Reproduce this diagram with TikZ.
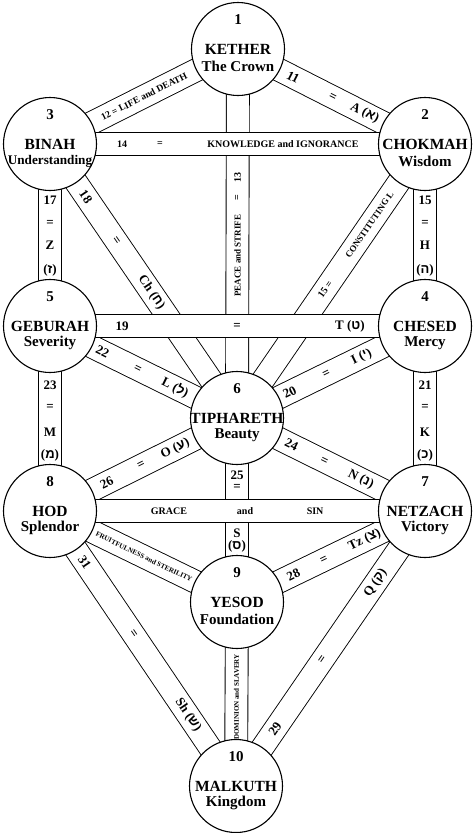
\documentclass[tikz,border=0pt]{standalone}
\usepackage{fontspec}
\setmainfont{Liberation Serif}
\newfontfamily\hebfont{Liberation Sans}
\usetikzlibrary{positioning, backgrounds, calc}
\newcommand{\heb}[1]{({\hebfont #1})}

\tikzset{
  sefira/.style={circle, draw, line width=1.1pt, fill=white, minimum size=93pt, inner sep=0pt},
  sefnum/.style={font=\bfseries\fontsize{15}{15}\selectfont, yshift=29pt},
  sefname/.style={font=\bfseries\fontsize{15.5}{15.5}\selectfont},
  seftitle/.style={font=\bfseries\fontsize{15}{15}\selectfont, yshift=-17pt},
  band/.style={line width=0.9pt, double=white, double distance=22pt},
  pathlab/.style={font=\bfseries\fontsize{13}{13}\selectfont, inner sep=0pt},
  pathtext/.style={font=\bfseries\fontsize{10}{10}\selectfont, inner sep=0pt},
  tinytext/.style={font=\bfseries\fontsize{7}{7}\selectfont, inner sep=0pt},
}

\begin{document}
\begin{tikzpicture}[x=1pt, y=-1pt]
\useasboundingbox (0,0) rectangle (476,833);

% the ten sefirot
\node[sefira, label={[sefnum]center:1}, label={[sefname]center:KETHER}, label={[seftitle]center:The Crown}] (kether) at (238,49) {};
\node[sefira, label={[sefnum]center:2}, label={[sefname]center:CHOKMAH}, label={[seftitle]center:Wisdom}] (chokmah) at (425,144) {};
\node[sefira, label={[sefnum]center:3}, label={[sefname]center:BINAH}, label={[seftitle, font=\bfseries\fontsize{13.2}{13.2}\selectfont]center:Understanding}] (binah) at (50,144) {};
\node[sefira, label={[sefnum]center:4}, label={[sefname]center:CHESED}, label={[seftitle]center:Mercy}] (chesed) at (425,326) {};
\node[sefira, label={[sefnum]center:5}, label={[sefname]center:GEBURAH}, label={[seftitle]center:Severity}] (geburah) at (50,326) {};
\node[sefira, label={[sefnum]center:6}, label={[sefname]center:TIPHARETH}, label={[seftitle]center:Beauty}] (tiphareth) at (237,418) {};
\node[sefira, label={[sefnum]center:7}, label={[sefname]center:NETZACH}, label={[seftitle]center:Victory}] (netzach) at (425,511) {};
\node[sefira, label={[sefnum]center:8}, label={[sefname]center:HOD}, label={[seftitle]center:Splendor}] (hod) at (50,511) {};
\node[sefira, label={[sefnum]center:9}, label={[sefname]center:YESOD}, label={[seftitle]center:Foundation}] (yesod) at (237,602) {};
\node[sefira, label={[sefnum]center:10}, label={[sefname]center:MALKUTH}, label={[seftitle]center:Kingdom}] (malkuth) at (236,786) {};

\begin{scope}[on background layer]
\fill[white] (0,0) rectangle (476,833);

% diagonal and vertical paths
\draw[band] (kether.center) -- (chokmah.center)
  node[pathlab, sloped, pos=0.295] {11}
  node[pathlab, sloped, pos=0.506] {=}
  node[pathlab, sloped, pos=0.677] {A \heb{א}};
\draw[band] (binah.center) -- (kether.center)
  node[pathtext, sloped, pos=0.5, font=\bfseries\fontsize{9.5}{9.5}\selectfont] {12 = LIFE and DEATH};
\draw[band] (kether.center) -- (tiphareth.center)
  node[pathtext, rotate=90, pos=0.348] {13}
  node[pathtext, rotate=90, pos=0.402] {=}
  node[pathtext, rotate=90, pos=0.56, font=\bfseries\fontsize{9}{9}\selectfont] {PEACE and STRIFE};
\draw[band] (tiphareth.center) -- (chokmah.center)
  node[pathtext, sloped, pos=0.469] {15 =}
  node[pathtext, sloped, pos=0.705, font=\bfseries\fontsize{9}{9}\selectfont] {CONSTITUTING L};
\draw[band] (chokmah.center) -- (chesed.center)
  node[pathlab, pos=0.308] {15}
  node[pathlab, pos=0.434] {=}
  node[pathlab, pos=0.555] {H}
  node[pathlab, pos=0.692] {\heb{ה}};
\draw[band] (binah.center) -- (geburah.center)
  node[pathlab, pos=0.308] {17}
  node[pathlab, pos=0.434] {=}
  node[pathlab, pos=0.555] {Z}
  node[pathlab, pos=0.692] {\heb{ז}};
\draw[band] (binah.center) -- (tiphareth.center)
  node[pathlab, sloped, pos=0.192] {18}
  node[pathlab, sloped, pos=0.353] {=}
  node[pathlab, sloped, pos=0.542] {Ch \heb{ח}};
\draw[band] (tiphareth.center) -- (chesed.center)
  node[pathlab, sloped, pos=0.28] {20}
  node[pathlab, sloped, pos=0.477] {=}
  node[pathlab, sloped, pos=0.663] {I \heb{י}};
\draw[band] (chesed.center) -- (netzach.center)
  node[pathlab, pos=0.319] {21}
  node[pathlab, pos=0.438] {=}
  node[pathlab, pos=0.573] {K}
  node[pathlab, pos=0.697] {\heb{כ}};
\draw[band] (geburah.center) -- (tiphareth.center)
  node[pathlab, sloped, pos=0.281] {22}
  node[pathlab, sloped, pos=0.468] {=}
  node[pathlab, sloped, pos=0.669] {L \heb{ל}};
\draw[band] (geburah.center) -- (hod.center)
  node[pathlab, pos=0.319] {23}
  node[pathlab, pos=0.438] {=}
  node[pathlab, pos=0.573] {M}
  node[pathlab, pos=0.697] {\heb{מ}};
\draw[band] (tiphareth.center) -- (netzach.center)
  node[pathlab, sloped, pos=0.29] {24}
  node[pathlab, sloped, pos=0.463] {=}
  node[pathlab, sloped, pos=0.659] {N \heb{נ}};
\draw[band] (tiphareth.center) -- (yesod.center)
  node[pathlab, pos=0.31] {25}
  node[pathlab, pos=0.375] {=}
  node[pathlab, pos=0.625] {S}
  node[pathlab, pos=0.70] {\heb{ס}};
\draw[band] (hod.center) -- (tiphareth.center)
  node[pathlab, sloped, pos=0.304] {26}
  node[pathlab, sloped, pos=0.488] {=}
  node[pathlab, sloped, pos=0.67] {O \heb{ע}};
\draw[band] (yesod.center) -- (netzach.center)
  node[pathlab, sloped, pos=0.30] {28}
  node[pathlab, sloped, pos=0.463] {=}
  node[pathlab, sloped, pos=0.679] {Tz \heb{צ}};
\draw[band] (malkuth.center) -- (netzach.center)
  node[pathlab, sloped, pos=0.207] {29}
  node[pathlab, sloped, pos=0.458] {=}
  node[pathlab, sloped, pos=0.739] {Q \heb{ק}};
\draw[band] (hod.center) -- (yesod.center)
  node[tinytext, sloped, pos=0.503] {FRUITFULNESS and STERILITY};
\draw[band] (hod.center) -- (malkuth.center)
  node[pathlab, sloped, pos=0.186] {31}
  node[pathlab, sloped, pos=0.448] {=}
  node[pathlab, sloped, pos=0.742] {Sh \heb{ש}};
\draw[band] (yesod.center) -- (malkuth.center)
  node[tinytext, rotate=90, pos=0.516] {DOMINION and SLAVERY};

% horizontal paths lie on top
\draw[band] (binah.center) -- (chokmah.center)
  node[pathtext, pos=0.192] {14}
  node[pathtext, pos=0.293] {=}
  node[pathtext, pos=0.621] {KNOWLEDGE and IGNORANCE};
\draw[band] (geburah.center) -- (chesed.center)
  node[pathlab, pos=0.192] {19}
  node[pathlab, pos=0.499] {=}
  node[pathlab, pos=0.8] {T \heb{ט}};
\draw[band] (hod.center) -- (netzach.center)
  node[pathtext, pos=0.317] {GRACE}
  node[pathtext, pos=0.52] {and}
  node[pathtext, pos=0.707] {SIN};
\end{scope}
\end{tikzpicture}
\end{document}
